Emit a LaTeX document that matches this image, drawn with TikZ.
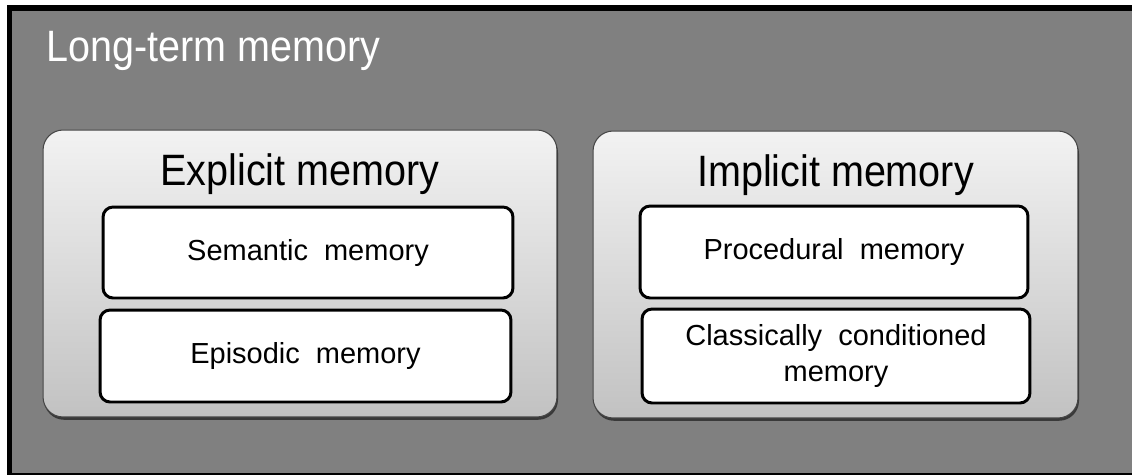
\documentclass[tikz,border=0pt]{standalone}
\usepackage{fontspec}
\setmainfont{Liberation Sans}
\newfontfamily\narrowsans[FakeStretch=0.9]{Liberation Sans}
\usetikzlibrary{shadows}
\definecolor{framegray}{RGB}{128,128,128}
\definecolor{groupedge}{RGB}{70,70,70}

\begin{document}
\begin{tikzpicture}[x=0.02cm,y=-0.02cm,
	group/.style={draw=groupedge,line width=0.6pt,rounded corners=0.4cm,
		top color=gray!10,bottom color=gray!48,
		drop shadow={shadow xshift=0.6pt,shadow yshift=-1.6pt,opacity=0.55,fill=black}},
	item/.style={draw=black,line width=1.7pt,rounded corners=0.2cm,fill=white,
		align=center,font=\fontsize{16.5}{21}\selectfont},
	heading/.style={anchor=base,font=\narrowsans\fontsize{25}{30}\selectfont}]
	% page size
	\useasboundingbox (0,0) rectangle (1132,474);
	% draw outer frame
	\begin{scope}
	\clip (0,0) rectangle (1132,474);
	\draw[line width=3.4pt,fill=framegray] (9.5,8) rectangle (1142,476);
	\end{scope}
	\node[heading,anchor=base west,text=white] (ltm) at (40,61) {Long-term memory};
	% draw the two groups
	\node[group,minimum width=10.28cm,minimum height=5.74cm] (explicit) at (300,273.5) {};
	\node[group,minimum width=9.7cm,minimum height=5.74cm] (implicit) at (835.5,274.5) {};
	\node[heading] (explicitlbl) at (explicit.north |- 0,185) {Explicit memory};
	\node[heading] (implicitlbl) at (implicit.north |- 0,186) {Implicit memory};
	% draw the memory types
	\node[item,minimum width=8.2cm,minimum height=1.82cm] (semantic) at (308,252.5) {Semantic\ \ memory};
	\node[item,minimum width=8.22cm,minimum height=1.84cm] (episodic) at (305.5,356) {Episodic\ \ memory};
	\node[item,minimum width=7.76cm,minimum height=1.84cm] (procedural) at (834,252) {Procedural\ \ memory};
	\node[item,minimum width=7.76cm,minimum height=1.88cm] (classical) at (836,356) {Classically\ \ conditioned\\memory};
\end{tikzpicture}
\end{document}
